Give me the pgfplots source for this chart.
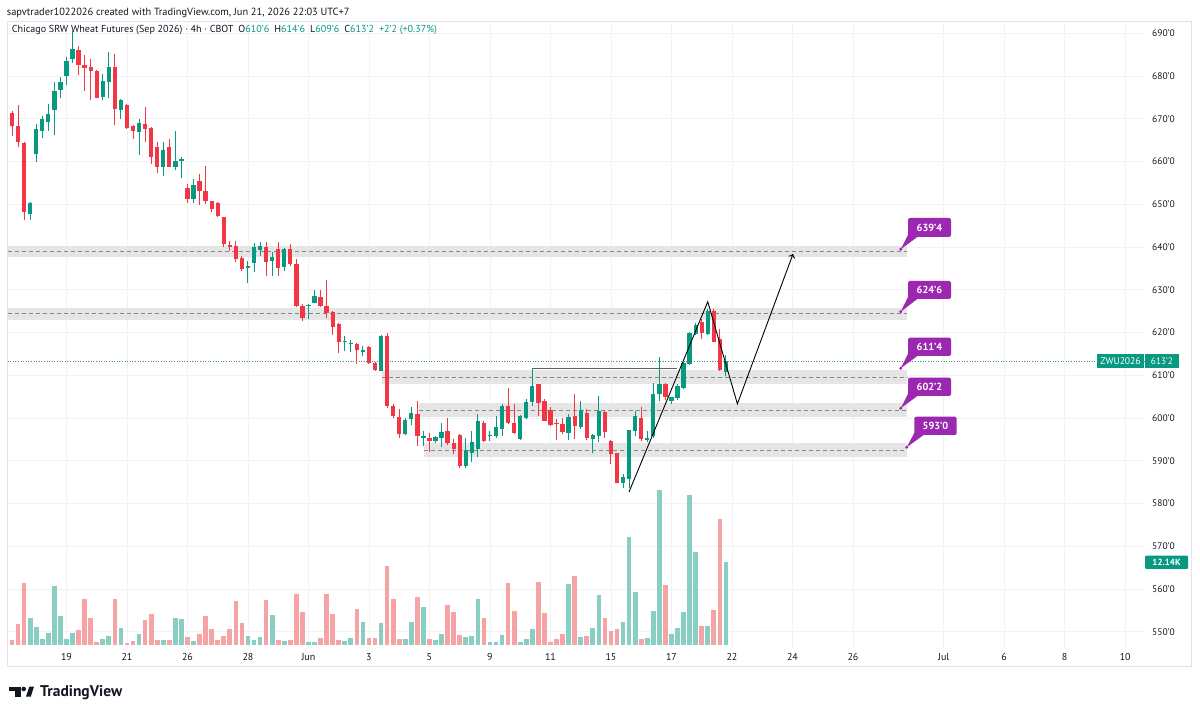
\documentclass[border=0pt]{standalone}
\usepackage{fontspec}
\setmainfont{PT Sans}
\usepackage{pgfplots}
\pgfplotsset{compat=1.18}
\usepackage{pgfplotstable}
\usetikzlibrary{arrows.meta}

\definecolor{tvgreen}{RGB}{8,153,129}
\definecolor{tvred}{RGB}{242,54,69}
\definecolor{volg}{RGB}{137,206,194}
\definecolor{volr}{RGB}{246,163,166}
\definecolor{zone}{RGB}{229,229,229}
\definecolor{zline}{RGB}{135,135,135}
\definecolor{tvpurple}{RGB}{156,39,176}
\definecolor{gridc}{RGB}{241,242,245}
\definecolor{framec}{RGB}{224,227,235}
\definecolor{txt}{RGB}{19,23,34}

% up candles: i open high low close volume(K)
\pgfplotstableread{
i O H L C v
4 647.7 650.6 646.2 650.2 3.98
5 661.8 668.8 659.8 667.6 2.67
6 667.1 670.6 665.5 670.0 0.87
7 669.2 673.5 667.2 671.1 1.79
8 672.0 678.6 666.2 676.6 8.64
9 676.8 679.7 674.8 678.7 4.27
10 679.9 684.4 677.8 683.5 0.87
11 684.0 690.5 683.1 686.4 1.79
16 675.1 680.5 674.3 678.8 0.87
17 678.6 685.7 674.8 682.1 1.31
19 672.0 674.7 670.0 674.3 2.43
22 667.0 670.0 661.5 669.0 1.60
26 658.7 664.5 656.7 662.6 0.73
28 658.8 667.2 657.9 660.1 3.89
29 660.0 661.0 656.1 660.6 3.79
31 651.2 655.9 650.3 654.6 0.58
40 635.2 636.8 631.6 635.5 1.31
41 636.3 640.9 634.1 639.9 0.73
42 639.2 641.2 638.0 640.2 1.12
44 636.8 638.8 633.3 637.6 4.37
46 635.3 639.7 634.4 639.5 0.63
50 626.1 626.7 623.1 626.4 0.39
51 626.9 629.9 626.8 628.5 0.39
56 617.8 619.1 615.7 617.9 0.58
57 617.2 618.3 615.5 617.5 1.06
59 615.5 616.9 614.4 615.9 3.31
62 611.0 619.4 611.0 619.2 3.16
66 596.2 599.9 596.0 599.6 0.83
67 599.7 602.6 598.3 601.1 3.31
69 595.3 597.0 593.5 595.7 5.58
71 594.6 595.8 594.1 595.6 0.73
72 595.4 598.8 593.3 596.7 1.56
76 588.7 595.4 588.2 592.5 1.21
77 591.9 597.0 589.6 594.3 1.31
78 592.7 600.9 590.8 599.3 6.70
80 595.7 597.0 594.7 596.0 0.39
81 595.8 600.5 595.4 597.8 0.39
82 597.5 603.2 595.8 602.7 1.46
85 595.0 600.7 594.9 600.5 0.39
86 599.9 604.4 599.7 603.8 0.87
87 603.8 611.6 602.7 607.5 2.33
93 596.4 600.9 594.9 600.3 8.89
95 597.8 604.0 597.4 601.9 1.12
97 595.2 596.2 591.8 596.0 2.43
98 595.7 605.2 594.3 601.7 7.29
102 584.9 586.8 583.7 586.3 3.40
103 585.7 597.3 583.7 597.1 15.70
104 597.0 601.7 595.8 600.5 7.77
106 594.9 597.0 594.3 595.3 0.98
107 595.8 608.3 595.4 605.6 4.95
108 605.6 614.2 604.0 607.9 22.59
110 604.0 605.0 603.2 604.8 1.56
111 604.6 607.9 604.2 607.5 2.43
112 607.1 613.1 606.7 612.8 4.76
113 612.6 620.0 612.4 619.9 21.86
114 619.6 622.2 619.4 621.7 13.60
116 619.6 625.5 619.4 625.1 2.77
119 610.75 614.75 609.75 613.25 12.14
}\upc

% down candles
\pgfplotstableread{
i O H L C v
1 671.4 671.8 666.0 668.3 0.73
2 668.4 673.3 663.3 664.5 3.02
3 664.3 664.5 646.2 648.3 9.08
12 686.0 687.1 680.3 682.5 2.19
13 682.5 684.8 676.6 681.9 6.70
14 682.1 684.0 674.3 681.2 3.98
15 681.2 681.5 674.8 674.9 0.48
18 682.1 685.2 668.6 672.2 6.70
20 673.3 673.5 667.6 667.8 0.34
21 668.3 668.6 665.3 667.2 0.63
23 668.8 672.7 664.5 667.6 3.64
24 667.8 668.0 659.4 661.0 4.52
25 663.4 664.5 657.3 658.7 0.73
27 663.4 665.3 658.7 658.7 0.73
30 653.8 654.8 650.3 651.2 1.21
32 655.5 657.1 649.9 653.0 1.56
33 653.2 659.0 650.1 650.8 4.27
34 650.7 650.8 648.1 648.9 2.33
35 650.3 650.5 647.0 647.2 0.73
36 647.0 647.1 639.9 640.7 1.31
37 640.5 641.5 639.1 639.9 2.33
38 640.3 641.5 636.6 637.2 6.45
39 637.4 637.8 634.4 634.8 3.16
43 639.9 641.2 633.3 636.6 6.56
45 639.5 641.1 633.1 635.0 0.73
47 639.5 640.7 635.6 636.0 0.73
48 636.0 637.2 625.9 626.1 7.43
49 626.1 626.7 622.7 623.5 4.85
52 628.2 629.9 625.9 626.3 0.98
53 626.1 632.3 623.3 624.5 7.43
54 624.7 625.1 619.4 621.4 4.52
55 622.0 622.2 615.3 617.7 0.73
58 617.3 617.5 612.6 615.9 5.20
60 616.7 616.9 612.6 612.8 0.98
61 612.8 613.1 611.0 611.2 0.98
63 619.2 619.9 602.4 602.8 11.55
64 602.8 603.2 599.9 600.5 6.70
65 600.3 602.1 595.4 596.2 0.83
68 601.0 604.0 593.5 595.7 6.95
70 595.4 596.6 592.1 594.6 0.83
73 597.0 599.9 593.6 594.1 5.83
74 594.1 595.0 591.5 592.7 4.76
75 596.0 596.2 588.2 588.7 1.46
79 598.9 599.3 594.3 594.7 3.89
83 602.7 606.9 598.5 598.8 9.08
84 598.9 603.2 596.2 596.4 4.95
88 607.9 607.9 600.5 603.6 9.22
89 604.0 604.4 599.3 599.3 4.71
90 601.9 602.5 598.2 598.3 0.48
91 598.8 599.7 594.9 598.5 0.83
92 598.5 599.9 596.2 596.7 1.56
94 600.5 605.6 595.0 598.2 10.05
96 601.1 602.1 594.9 595.4 1.31
99 601.3 601.7 595.4 596.7 3.98
100 594.6 594.9 589.2 591.5 2.04
101 591.9 591.9 584.7 584.9 2.33
105 599.9 602.5 594.7 595.0 0.83
109 607.9 608.3 604.2 604.8 8.74
115 622.4 623.1 618.4 619.9 2.77
117 625.1 625.5 617.7 617.8 5.10
118 618.5 620.8 611.0 611.3 18.36
}\dnc

\pgfplotsset{candle/.style args={#1/#2}{only marks, mark size=0pt,
  mark options={draw=none, fill=none},
  error bars/.cd, y dir=plus, y explicit, error mark=none,
  error bar style={draw=#1, line width=#2, line cap=butt}}}

\newcommand\plabel[7]{%
  \fill[tvpurple] (#1+1,#2+4) -- (#1+10,#2+0.5) -- (#5,#6) -- cycle;
  \fill[tvpurple, rounded corners=2pt] (#1,#2) rectangle (#3,#4);
  \fill[tvpurple] (#5,#6) circle (1.6);
  \node[text=white, font=\bfseries\fontsize{10.3}{11}\selectfont, inner sep=0pt] at ({(#1+#3)/2},{(#2+#4)/2}) {#7};}

\begin{document}
\begin{tikzpicture}[x=1pt,y=1pt]
\useasboundingbox (0,0) rectangle (1200,717);
\fill[white] (0,0) rectangle (1200,717);
\draw[framec, line width=0.8pt] (7.5,50.3) rectangle (1191.7,695.3);

\begin{axis}[at={(7.5pt,69pt)}, anchor=south west, scale only axis,
  width=1137.5pt, height=626.3pt,
  xmin=0.256, xmax=188.27, ymin=546.2, ymax=692.7,
  axis line style={draw=none}, tick style={draw=none}, major tick length=0pt,
  grid=major, grid style={gridc, line width=0.7pt},
  xtick={10,20,30,40,50,60,70,80,90,100,110,120,130,140,155,165,175,185},
  xticklabels={19,21,26,28,Jun,3,5,9,11,15,17,22,24,26,Jul,6,8,10},
  ytick={550,560,...,690},
  yticklabels={550'0,560'0,570'0,580'0,590'0,600'0,610'0,620'0,630'0,640'0,650'0,660'0,670'0,680'0,690'0},
  yticklabel pos=right,
  yticklabel style={anchor=west, inner sep=0pt, xshift=7pt, font=\fontsize{9.5}{10}\selectfont, text=txt},
  xticklabel style={anchor=base, inner sep=0pt, yshift=-12.7pt, font=\fontsize{10}{11}\selectfont, text=txt},
  clip=true]

% volume
\addplot[candle=volg/4.7pt] table[x=i, y expr=546.9, y error expr=\thisrow{v}*1.6055] {\upc};
\addplot[candle=volr/4.7pt] table[x=i, y expr=546.9, y error expr=\thisrow{v}*1.6055] {\dnc};

% zones
\fill[zone] (axis cs:0.256,637.7) rectangle (axis cs:148.9,640.3);
\draw[zline, dash pattern=on 4pt off 3pt, line width=0.7pt] (axis cs:0.256,639.0) -- (axis cs:148.9,639.0);
\fill[zone] (axis cs:0.256,623.0) rectangle (axis cs:148.9,625.8);
\draw[zline, dash pattern=on 4pt off 3pt, line width=0.7pt] (axis cs:0.256,624.4) -- (axis cs:148.9,624.4);
\fill[zone] (axis cs:62.1,607.9) rectangle (axis cs:148.9,611.2);
\draw[zline, dash pattern=on 4pt off 3pt, line width=0.7pt] (axis cs:62.1,609.5) -- (axis cs:148.9,609.5);
\fill[zone] (axis cs:68.2,600.3) rectangle (axis cs:148.9,603.6);
\draw[zline, dash pattern=on 4pt off 3pt, line width=0.7pt] (axis cs:68.2,601.9) -- (axis cs:148.9,601.9);
\fill[zone] (axis cs:69.1,590.8) rectangle (axis cs:148.9,594.1);
\draw[zline, dash pattern=on 4pt off 3pt, line width=0.7pt] (axis cs:69.1,592.5) -- (axis cs:148.9,592.5);

% current price line
\draw[tvgreen!55!gray, dash pattern=on 1pt off 1.6pt, line width=0.6pt] (axis cs:0.256,613.25) -- (axis cs:188.27,613.25);

% horizontal level from high
\draw[gray!75!black, line width=1.1pt] (axis cs:87.1,611.5) -- (axis cs:110.9,611.5);

% wicks
\addplot[candle=tvgreen/1pt] table[x=i, y=L, y error expr=\thisrow{H}-\thisrow{L}] {\upc};
\addplot[candle=tvred/1pt] table[x=i, y=L, y error expr=\thisrow{H}-\thisrow{L}] {\dnc};
% bodies
\addplot[candle=tvgreen/4.3pt] table[x=i, y=O, y error expr=\thisrow{C}-\thisrow{O}] {\upc};
\addplot[candle=tvred/4.3pt] table[x=i, y=C, y error expr=\thisrow{O}-\thisrow{C}] {\dnc};

% projection drawing
\addplot[black, line width=0.9pt, mark=none, -{To[length=4pt,width=7pt]}] coordinates {(103.0,582.75) (116.0,627.2) (120.9,603.3) (130.1,638.4)};
\end{axis}

% purple labels
\plabel{908}{480}{951}{499}{900.7}{467.7}{639'4}
\plabel{908}{418}{951}{436}{900.7}{405.3}{624'6}
\plabel{908}{361}{951}{379.3}{900.7}{348.7}{611'4}
\plabel{908}{321}{951}{339.3}{900.7}{308.7}{602'2}
\plabel{914.3}{282}{956.7}{300.3}{906.7}{269.7}{593'0}

% price scale labels
\fill[tvgreen] (1096.7,348.7) rectangle (1144.3,363);
\node[text=white, font=\fontsize{9.6}{10}\selectfont, inner sep=0pt] at (1120.5,355.85) {ZWU2026};
\fill[tvgreen] (1145,348.7) rectangle (1179,363);
\node[text=white, font=\fontsize{9.3}{10}\selectfont, inner sep=0pt] at (1162,355.85) {613'2};
\fill[tvgreen, rounded corners=1pt] (1145,148) rectangle (1188,161.3);
\node[text=white, font=\bfseries\fontsize{9}{10}\selectfont, inner sep=0pt] at (1166.5,154.6) {12.14K};

% header texts
\node[anchor=base west, inner sep=0pt, text=txt, font=\fontsize{10.4}{12}\selectfont] at (6.7,701) {sapvtrader1022026 created with TradingView.com, Jun 21, 2026 22:03 UTC+7};
\node[anchor=base west, inner sep=0pt, text=txt, font=\fontsize{10.1}{12}\selectfont] at (11.7,684) {Chicago SRW Wheat Futures (Sep 2026) · 4h · CBOT\hspace{5pt}O\textcolor{tvgreen}{610'6}\hspace{5pt}H\textcolor{tvgreen}{614'6}\hspace{5pt}L\textcolor{tvgreen}{609'6}\hspace{5pt}C\textcolor{tvgreen}{613'2}\hspace{5pt}\textcolor{tvgreen}{+2'2 (+0.37\%)}};

% logo
\fill[txt] (9.3,26.3) rectangle (20.7,30.3);
\fill[txt] (15,20.3) rectangle (20.7,30.3);
\fill[txt] (23.7,28) circle (2.3);
\fill[txt] (26,20.3) -- (30.7,20.3) -- (34,30.3) -- (29.3,30.3) -- cycle;
\node[anchor=base west, inner sep=0pt, text=txt, font=\bfseries\fontsize{15.5}{16}\selectfont] at (40,20) {TradingView};
\end{tikzpicture}
\end{document}
